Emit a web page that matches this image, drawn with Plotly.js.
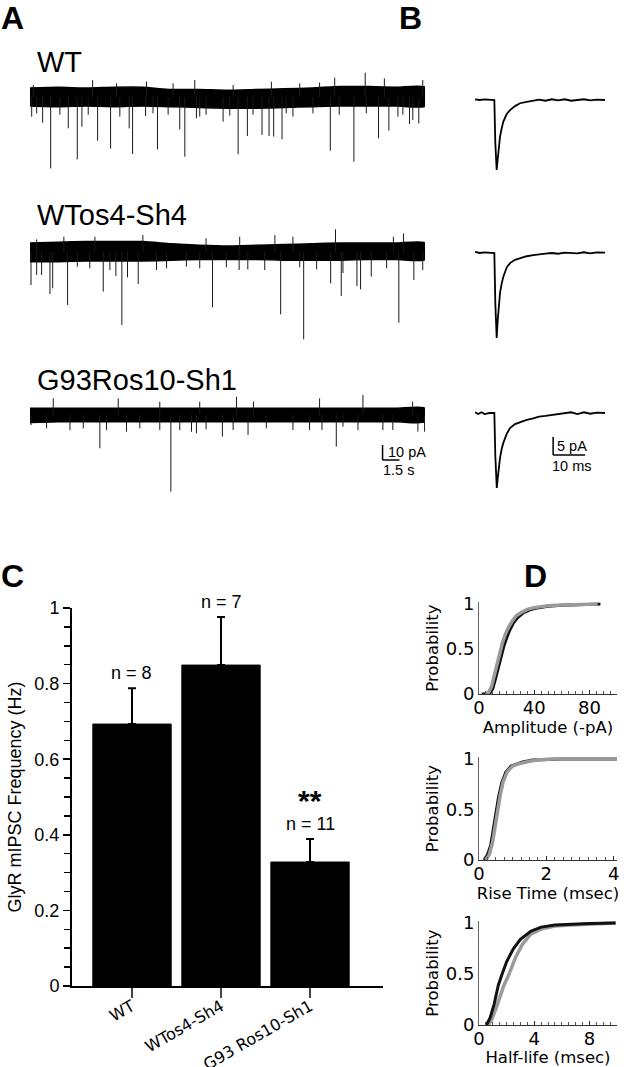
<!DOCTYPE html>
<html><head><meta charset="utf-8">
<script src="https://cdn.plot.ly/plotly-3.0.1.min.js"></script>
<style>body{margin:0;background:#fff}#chart{width:624px;height:1067px}</style>
</head><body><div id="chart"></div>
<script>
// ================= DATA =================
// Panel A: continuous recordings (time in s, current in pA relative to baseline)
const bandT = [0,2.5,5,7.5,10,12.5,15,17.5,20,22.5,25,27.5,30,32.5,35];
const wtBandHi = [6,6.5,6,6.5,6.5,5,5,4.5,5,5.5,6,7,7,6.5,6.5];
const wtBandLo = [-6,-6.5,-6,-6.5,-6,-6.5,-7,-7.5,-7.5,-7,-6.5,-6,-6,-6,-6];
const wtDownT = [0.15,0.59,1.12,1.83,2.65,3.39,4.19,4.60,5.16,5.99,7.14,7.96,8.79,9.09,10.24,10.9,11.3,12.24,13.27,13.72,14.75,15.04,15.6,17.11,17.7,18.44,19.26,19.76,20.56,21.18,21.59,22.33,22.7,23.3,25.07,26.61,27.4,28.7,29.8,30.88,31.8,32.6,33.04,33.63,33.92,34.45];
const wtDownAmp = [-13.1,-10.9,-17.1,-47.6,-11.8,-20.9,-41.6,-19.8,-11.8,-29.1,-34.4,-13.1,-20.9,-38,-12.7,-10.9,-34.9,-11.8,-21.6,-39.8,-14.2,-13.1,-11.8,-16.4,-12.4,-38.2,-26,-11.8,-25.3,-26,-26.4,-28.2,-10.9,-13.1,-10.9,-35.8,-11.8,-43.1,-10.9,-27.6,-22.4,-13.1,-11.8,-18,-15.3,-17.6];
const wtUpT = [0.29,5.55,7.67,10.32,12.68,14.6,18.0,21.39,23.9,25.66,27.0,29.7,31.4,34.8];
const wtUpAmp = [8,11.3,9.1,10.2,9.1,11.3,8,10.2,9.1,9.6,12.9,16.2,12.4,11.3];

const shBandHi = [6,6.5,7,7,7,5.5,4.5,4,4.5,5,5.5,6,6,6,6];
const shBandLo = [-6.5,-6.5,-6,-6,-6,-5.5,-5,-5,-5,-5.5,-5.5,-5.5,-5,-5,-5];
const shDownT = [0.09,0.59,1.03,1.77,2.01,3.33,4.19,5.3,6.49,7.08,7.61,8.14,8.64,9.59,11.21,12.1,13.86,15.04,16.17,17.4,18.53,19.3,20.8,22.21,23.9,24.25,25.4,26.64,27.58,27.73,28.97,29.29,30.24,31.6,32.68,34.01,34.8];
const shDownAmp = [-22,-15.3,-15.3,-28,-24.2,-35.3,-9.8,-10.9,-26.4,-12,-16,-48.7,-16.9,-21.3,-12,-10.9,-9.8,-10.9,-36.9,-10.2,-12,-11.6,-12,-41.6,-10.2,-58.2,-11.6,-20.9,-29.3,-14,-22.7,-24.9,-16.4,-10.9,-47.1,-18.7,-12];
const shUpT = [0.59,3.0,5.75,10.0,15.6,18.58,21.7,23.3,27.07,32.2,33.1];
const shUpAmp = [8.4,10.2,10.2,11.3,9.1,10.2,11.3,10.2,15.1,10.2,12.4];

const g9BandHi = [4.5,4.5,4.5,4.5,4.5,4.5,4.5,4.5,4.5,4.5,4.5,4.5,4.5,4.5,4.5];
const g9BandLo = [-5,-4.5,-4.5,-4.5,-4.5,-4.5,-4.5,-4.5,-4.5,-4.5,-4.5,-4.5,-4.5,-4.5,-4.5];
const g9DownT = [0.09,1.47,3.54,4.72,6.19,6.78,8.55,9.73,11.5,12.48,13.27,14.31,14.75,15.6,17.05,18.0,19.32,20.94,23.3,24.77,25.87,27.14,27.73,29.06,31.27,32.15,34.37,34.96];
const g9DownAmp = [-6.7,-8.9,-10,-8.9,-22.2,-10,-11.1,-8.9,-10,-51.1,-10,-11.1,-12.2,-9.5,-14.4,-10,-13.3,-8.9,-10,-10,-10,-21.1,-7.8,-10,-10,-10,-11.1,-11.1];
const g9UpT = [2.06,7.82,11.5,15.04,18.3,19.8,25.66,29.5,33.9];
const g9UpAmp = [11.1,11.1,8.9,8.9,12.2,9,11.1,13.3,8.9];

const groupNames = ['WT','WTos4-Sh4','G93Ros10-Sh1'];
const scaleA = {amp: 10, time: 1.5};   // pA, s
const scaleB = {amp: 5, time: 10};     // pA, ms

// Panel B: averaged mIPSCs (time in ms, current in pA)
const bT1 = [0,1.5,3,4.5,6.04,6.35,6.56,6.77,7.08,7.40,7.81,8.33,8.85,9.9,10.94,12.5,14.06,16.15,18.2,20,22,24,26,28,30,32,34,36,38,40.6];
const bI1 = [0.2,0,0.2,0,0,-12.0,-17.5,-19.4,-16.6,-12.9,-10.2,-7.9,-6.0,-3.9,-2.8,-1.7,-0.9,-0.5,-0.2,0.1,-0.2,0.2,-0.1,0.2,-0.2,0,0.2,-0.1,0.1,0];
const bT2 = [0,1.5,3,4.5,6.04,6.35,6.56,6.77,7.08,7.40,7.81,8.33,8.85,9.9,10.94,12.5,14.06,16.15,18.2,20,22,24,26,28,30,32,34,36,38,40.6];
const bI2 = [0.3,0,0.2,0,0,-14,-21,-23.6,-18.9,-14.2,-11.1,-8.5,-6.6,-4.0,-2.8,-1.9,-1.4,-0.9,-0.6,-0.5,-0.2,0,-0.2,0.1,0,-0.1,0.2,-0.1,0.2,0.1];
const bT3 = [0,1,2,3,4.5,6.04,6.35,6.56,6.8,7.08,7.40,7.81,8.33,8.85,9.9,10.94,12.5,14.06,16.15,18.2,20,22,24,26,28,30,32,34,36,38,40.6];
const bI3 = [0.2,-0.3,0.2,-0.3,0,0,-12,-18,-20.8,-18.3,-15.4,-12.5,-10.0,-8.3,-5.8,-4.2,-3.1,-2.5,-1.9,-1.5,-1.0,-0.8,-0.6,-0.4,-0.2,0.2,-0.3,0.2,-0.2,0.1,0];

// Panel C: GlyR mIPSC frequency
const cCategories = ['WT','WTos4-Sh4','G93 Ros10-Sh1'];
const cMeans = [0.693,0.849,0.328];
const cSEM = [0.095,0.127,0.061];
const cN = ['n = 8','n = 7','n = 11'];
const cSig = ['','','**'];
const cTickVals = [0,0.2,0.4,0.6,0.8,1];
const cTickText = ['0','0.2','0.4','0.6','0.8','1'];

// Panel D: cumulative distributions (black and gray)
const ampBlackX = [2,6,8,10,12,14,16,18,20,22,25,28,32,36,40,45,50,60,70,80,88];
const ampBlackP = [0,0,0.01,0.06,0.17,0.3,0.42,0.53,0.62,0.7,0.79,0.85,0.9,0.93,0.95,0.965,0.975,0.985,0.99,0.995,1];
const ampGrayX = [5,7,9,11,13,15,17,19,21,24,27,30,35,40,45,50,60,70,80,86];
const ampGrayP = [0,0.02,0.08,0.2,0.33,0.46,0.57,0.66,0.73,0.81,0.87,0.9,0.94,0.96,0.97,0.98,0.99,0.995,1,1];
const riseBlackX = [0.15,0.25,0.35,0.42,0.5,0.58,0.68,0.8,0.95,1.1,1.3,1.6,2.0,2.5,3.0,4.1];
const riseBlackP = [0,0.05,0.15,0.3,0.48,0.62,0.77,0.87,0.93,0.95,0.97,0.99,0.995,1,1,1];
const riseGrayX = [0.2,0.3,0.4,0.47,0.55,0.63,0.72,0.85,1.0,1.15,1.4,1.7,2.2,3.0,4.1];
const riseGrayP = [0,0.05,0.17,0.32,0.5,0.64,0.78,0.88,0.93,0.95,0.97,0.99,1,1,1];
const halfBlackX = [0.54,0.8,1.09,1.4,1.65,2.0,2.5,3.0,3.75,4.5,5.5,6.7,8,9.9];
const halfBlackP = [0,0.07,0.2,0.39,0.49,0.62,0.75,0.84,0.92,0.96,0.98,0.99,0.995,1];
const halfGrayX = [0.67,0.91,1.28,1.78,2.15,2.64,3.14,3.75,4.5,5.5,6.7,7.95,9.9];
const halfGrayP = [0,0.05,0.18,0.38,0.49,0.66,0.79,0.89,0.94,0.97,0.98,0.99,1];

// ================= LAYOUT HELPERS =================
const W = 624, H = 1067;
const fx = p => p / W;
const fy = p => 1 - p / H;
const ydom = (top, bot) => [fy(bot), fy(top)];
const yRange = (top, bot, base, ppu) => [-(bot - base) / ppu, (base - top) / ppu];

function sticks(ts, amps) {
  const x = [], y = [];
  ts.forEach((t, i) => { x.push(t, t, null); y.push(0, amps[i], null); });
  return {x, y};
}
function band(ts, hi, lo) {
  return {x: ts.concat(ts.slice().reverse()), y: hi.concat(lo.slice().reverse())};
}

const traces = [];
const aSets = [
  {hi: wtBandHi, lo: wtBandLo, dT: wtDownT, dA: wtDownAmp, uT: wtUpT, uA: wtUpAmp, ya: 'y'},
  {hi: shBandHi, lo: shBandLo, dT: shDownT, dA: shDownAmp, uT: shUpT, uA: shUpAmp, ya: 'y2'},
  {hi: g9BandHi, lo: g9BandLo, dT: g9DownT, dA: g9DownAmp, uT: g9UpT, uA: g9UpAmp, ya: 'y3'}
];
aSets.forEach(s => {
  const b = band(bandT, s.hi, s.lo);
  traces.push({type: 'scatter', mode: 'lines', x: b.x, y: b.y, fill: 'toself', fillcolor: '#000',
    line: {color: '#000', width: 1.5, shape: 'spline', smoothing: 0.6}, xaxis: 'x', yaxis: s.ya, hoverinfo: 'skip'});
  const d = sticks(s.dT, s.dA);
  traces.push({type: 'scatter', mode: 'lines', x: d.x, y: d.y, line: {color: '#1a1a1a', width: 1},
    xaxis: 'x', yaxis: s.ya, hoverinfo: 'skip'});
  const u = sticks(s.uT, s.uA);
  traces.push({type: 'scatter', mode: 'lines', x: u.x, y: u.y, line: {color: '#1a1a1a', width: 1},
    xaxis: 'x', yaxis: s.ya, hoverinfo: 'skip'});
});

[[bT1, bI1, 'y4'], [bT2, bI2, 'y5'], [bT3, bI3, 'y6']].forEach(([t, v, ya]) => {
  traces.push({type: 'scatter', mode: 'lines', x: t, y: v, line: {color: '#000', width: 1.8},
    xaxis: 'x2', yaxis: ya, hoverinfo: 'skip'});
});

traces.push({type: 'bar', x: cCategories, y: cMeans, width: 0.88,
  marker: {color: '#000', line: {color: '#000', width: 1}},
  error_y: {type: 'data', symmetric: false, array: cSEM, arrayminus: cSEM.map(() => 0),
    color: '#000', thickness: 2, width: 4},
  xaxis: 'x3', yaxis: 'y7', hoverinfo: 'skip'});

const grayC = '#9a9a9a', blackC = '#111';
traces.push({type: 'scatter', mode: 'lines', x: ampBlackX, y: ampBlackP, line: {color: blackC, width: 3}, xaxis: 'x4', yaxis: 'y8'});
traces.push({type: 'scatter', mode: 'lines', x: ampGrayX, y: ampGrayP, line: {color: grayC, width: 3.5}, xaxis: 'x4', yaxis: 'y8'});
traces.push({type: 'scatter', mode: 'lines', x: riseBlackX, y: riseBlackP, line: {color: blackC, width: 3}, xaxis: 'x5', yaxis: 'y9'});
traces.push({type: 'scatter', mode: 'lines', x: riseGrayX, y: riseGrayP, line: {color: grayC, width: 3.5}, xaxis: 'x5', yaxis: 'y9'});
traces.push({type: 'scatter', mode: 'lines', x: halfGrayX, y: halfGrayP, line: {color: grayC, width: 3.5}, xaxis: 'x6', yaxis: 'y10'});
traces.push({type: 'scatter', mode: 'lines', x: halfBlackX, y: halfBlackP, line: {color: blackC, width: 3}, xaxis: 'x6', yaxis: 'y10'});

const hid = {visible: false, fixedrange: true, showgrid: false, zeroline: false};
const dTick = {family: 'DejaVu Sans, Verdana, sans-serif', size: 18, color: '#000'};
const dTitle = {family: 'DejaVu Sans, Verdana, sans-serif', size: 16.5, color: '#000'};
function dX(range, tv, minorDt, title, anchor) {
  return {domain: [fx(479), fx(617)], range: range, anchor: anchor, showline: true, linecolor: '#333', linewidth: 1,
    tickmode: 'array', tickvals: tv, ticks: 'inside', ticklen: 4, tickcolor: '#333',
    minor: {dtick: minorDt, tick0: 0, ticks: 'inside', ticklen: 3, tickcolor: '#555'},
    tickfont: dTick, ticklabelstandoff: -3, showgrid: false, zeroline: false,
    title: {text: title, font: dTitle, standoff: 0}};
}
function dY(top, bot, anchor) {
  return {domain: ydom(top, bot), range: [0, 1.02], anchor: anchor, showline: true, linecolor: '#666', linewidth: 1,
    tickmode: 'array', tickvals: [0, 0.5, 1], ticktext: ['0', '0.5', '1'], ticks: '',
    tickfont: dTick, showgrid: false, zeroline: false,
    title: {text: 'Probability', font: dTitle, standoff: 2}};
}

const layout = {
  width: W, height: H, margin: {l: 0, r: 0, t: 0, b: 0},
  paper_bgcolor: '#fff', plot_bgcolor: 'rgba(0,0,0,0)', showlegend: false,
  font: {family: 'Liberation Sans, Arial, sans-serif', color: '#000'},
  bargap: 0,
  xaxis: Object.assign({}, hid, {domain: [fx(30), fx(425)], range: [0, 35], anchor: 'y3'}),
  yaxis: Object.assign({}, hid, {domain: ydom(60, 185), range: yRange(60, 185, 97, 1.5), anchor: 'x'}),
  yaxis2: Object.assign({}, hid, {domain: ydom(215, 345), range: yRange(215, 345, 252, 1.5), anchor: 'x'}),
  yaxis3: Object.assign({}, hid, {domain: ydom(375, 500), range: yRange(375, 500, 415, 1.5), anchor: 'x'}),
  xaxis2: Object.assign({}, hid, {domain: [fx(475), fx(605)], range: [0, 40.6], anchor: 'y6'}),
  yaxis4: Object.assign({}, hid, {domain: ydom(80, 190), range: yRange(80, 190, 100, 3.6), anchor: 'x2'}),
  yaxis5: Object.assign({}, hid, {domain: ydom(233, 350), range: yRange(233, 350, 253, 3.6), anchor: 'x2'}),
  yaxis6: Object.assign({}, hid, {domain: ydom(393, 500), range: yRange(393, 500, 413, 3.6), anchor: 'x2'}),
  xaxis3: {domain: [fx(72), fx(383)], range: [-0.674, 2.82], type: 'category', anchor: 'y7',
    showline: true, linewidth: 2, linecolor: '#000', ticks: 'outside', ticklen: 10, tickwidth: 1.5, tickcolor: '#444',
    tickangle: -30, ticklabelstandoff: -7, tickfont: {family: 'DejaVu Sans, Verdana, sans-serif', size: 16, color: '#000'},
    showgrid: false, zeroline: false},
  yaxis7: {domain: ydom(608, 986), range: [0, 1], anchor: 'x3', showline: true, linewidth: 2, linecolor: '#000',
    tickmode: 'array', tickvals: cTickVals, ticktext: cTickText, ticks: 'outside', ticklen: 7, tickwidth: 1.5, tickcolor: '#000',
    minor: {dtick: 0.05, tick0: 0, ticks: 'outside', ticklen: 6, tickwidth: 1.5, tickcolor: '#000'},
    tickfont: {size: 18}, showgrid: false, zeroline: false,
    title: {text: 'GlyR mIPSC Frequency (Hz)', font: {size: 18}, standoff: 8}},
  xaxis4: dX([0, 100], [0, 40, 80], 5, 'Amplitude (-pA)', 'y8'),
  yaxis8: dY(602.2, 694, 'x4'),
  xaxis5: dX([0, 4.1], [0, 2, 4], 0.25, 'Rise Time (msec)', 'y9'),
  yaxis9: dY(757, 860, 'x5'),
  xaxis6: dX([0, 10], [0, 4, 8], 0.5, 'Half-life (msec)', 'y10'),
  yaxis10: dY(921, 1025, 'x6'),
  shapes: [], annotations: []
};

// scale bars
const sbA = {x: 31.24, y: -30}, sbB = {x: 24.4, y: -11.67};
layout.shapes.push(
  {type: 'line', xref: 'x', yref: 'y3', x0: sbA.x, x1: sbA.x, y0: sbA.y, y1: sbA.y + scaleA.amp, line: {color: '#000', width: 1.5}},
  {type: 'line', xref: 'x', yref: 'y3', x0: sbA.x, x1: sbA.x + scaleA.time, y0: sbA.y, y1: sbA.y, line: {color: '#000', width: 1.5}},
  {type: 'line', xref: 'x2', yref: 'y6', x0: sbB.x, x1: sbB.x, y0: sbB.y, y1: sbB.y + scaleB.amp, line: {color: '#000', width: 1.5}},
  {type: 'line', xref: 'x2', yref: 'y6', x0: sbB.x, x1: sbB.x + scaleB.time, y0: sbB.y, y1: sbB.y, line: {color: '#000', width: 1.5}}
);

const ann = (text, px, py, opts) => Object.assign({text: text, xref: 'paper', yref: 'paper', x: fx(px), y: fy(py),
  showarrow: false, xanchor: 'center', yanchor: 'middle'}, opts || {});
const letterFont = {family: 'Liberation Sans, Arial, sans-serif', size: 32, color: '#000'};
layout.annotations.push(
  ann('<b>A</b>', 12, 18, {font: letterFont}),
  ann('<b>B</b>', 410, 18, {font: letterFont}),
  ann('<b>C</b>', 12, 576, {font: letterFont}),
  ann('<b>D</b>', 535, 576, {font: letterFont})
);
const grpFont = {family: 'Liberation Sans, Arial, sans-serif', size: 29, color: '#000'};
[[62], [215], [380]].forEach((p, i) => {
  layout.annotations.push(ann(groupNames[i], 35, p[0], {font: grpFont, xanchor: 'left'}));
});
const sbFont = {family: 'Liberation Sans, Arial, sans-serif', size: 14.5, color: '#000'};
layout.annotations.push(
  ann(scaleA.amp + ' pA', 386, 452, {font: sbFont, xanchor: 'left'}),
  ann(scaleA.time + ' s', 381, 470, {font: sbFont, xanchor: 'left'}),
  ann(scaleB.amp + ' pA', 555, 446, {font: sbFont, xanchor: 'left'}),
  ann(scaleB.time + ' ms', 550, 466, {font: sbFont, xanchor: 'left'})
);
cCategories.forEach((c, i) => {
  layout.annotations.push({text: cN[i], xref: 'x3', yref: 'y7', x: c, y: cMeans[i] + cSEM[i],
    showarrow: false, xanchor: 'center', yanchor: 'bottom', yshift: 3, font: {size: 18}});
  if (cSig[i]) layout.annotations.push({text: '<b>' + cSig[i] + '</b>', xref: 'x3', yref: 'y7', x: c, y: cMeans[i] + cSEM[i],
    showarrow: false, xanchor: 'center', yanchor: 'bottom', yshift: 20, font: {size: 30}});
});

Plotly.newPlot('chart', traces, layout, {staticPlot: true, displayModeBar: false});
</script>
</body></html>
